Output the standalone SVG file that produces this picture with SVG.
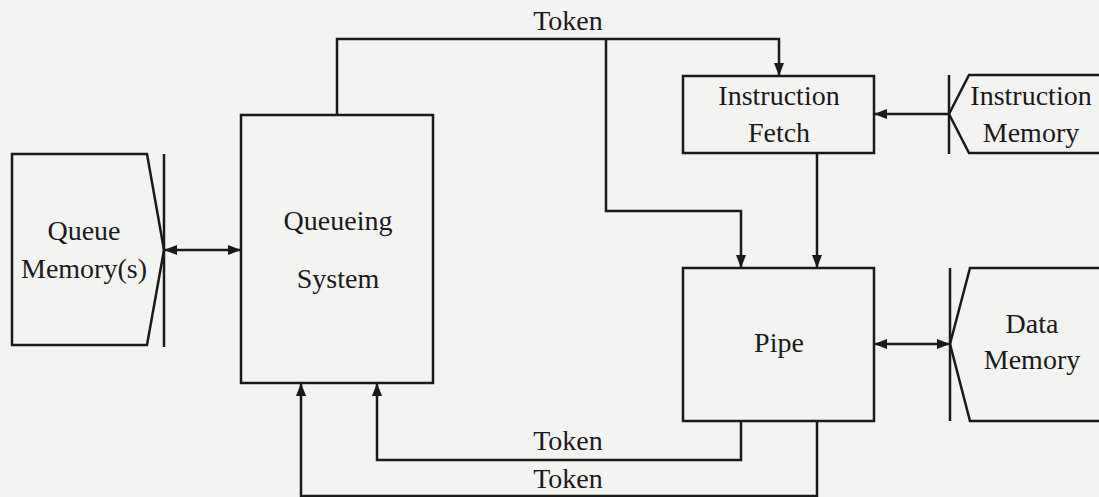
<svg xmlns="http://www.w3.org/2000/svg" width="1099" height="497" viewBox="0 0 1099 497">
<defs>
<marker id="ah" markerUnits="userSpaceOnUse" markerWidth="13" markerHeight="10" refX="13" refY="5" orient="auto-start-reverse">
<path d="M0,0 L13,5 L0,10 z" fill="#1a1a1a"/>
</marker>
<style>
.box{fill:none;stroke:#1a1a1a;stroke-width:2.5}
.wire{fill:none;stroke:#1a1a1a;stroke-width:2.5}
.lbl{font-family:"Liberation Serif","Times New Roman",serif;font-size:28px;fill:#1a1a1a;text-anchor:middle}
</style>
</defs>
<rect x="0" y="0" width="1099" height="497" fill="#f3f3f1"/>
<g id="queue-memory">
<path class="box" d="M147,154 H12 V345 H147 L164,250 Z"/>
<line class="box" x1="164" y1="154" x2="164" y2="347"/>
<text class="lbl" x="84" y="240">Queue</text>
<text class="lbl" x="84" y="278">Memory(s)</text>
</g>
<g id="queueing-system">
<rect class="box" x="241" y="115" width="192" height="268"/>
<text class="lbl" x="338" y="230">Queueing</text>
<text class="lbl" x="338" y="288">System</text>
</g>
<g id="instruction-fetch">
<rect class="box" x="683" y="76" width="191" height="77"/>
<text class="lbl" x="779" y="105">Instruction</text>
<text class="lbl" x="779" y="142">Fetch</text>
</g>
<g id="instruction-memory">
<path class="box" d="M1110,75 H969 L949,114 L969,153 H1110"/>
<line class="box" x1="949" y1="75" x2="949" y2="154"/>
<text class="lbl" x="1031" y="105">Instruction</text>
<text class="lbl" x="1031" y="142">Memory</text>
</g>
<g id="pipe">
<rect class="box" x="683" y="268" width="191" height="153"/>
<text class="lbl" x="779" y="352">Pipe</text>
</g>
<g id="data-memory">
<path class="box" d="M1110,268 H970 L950,344 L970,421 H1110"/>
<line class="box" x1="950" y1="268" x2="950" y2="421"/>
<text class="lbl" x="1032" y="333">Data</text>
<text class="lbl" x="1032" y="369">Memory</text>
</g>
<g id="connectors">
<line class="wire" x1="164" y1="250" x2="241" y2="250" marker-start="url(#ah)" marker-end="url(#ah)"/>
<line class="wire" x1="949" y1="114" x2="874" y2="114" marker-end="url(#ah)"/>
<line class="wire" x1="874" y1="344" x2="950" y2="344" marker-start="url(#ah)" marker-end="url(#ah)"/>
<line class="wire" x1="817" y1="153" x2="817" y2="268" marker-end="url(#ah)"/>
<path class="wire" d="M337,115 V39 H779 V76" marker-end="url(#ah)"/>
<path class="wire" d="M606,39 V211 H741 V268" marker-end="url(#ah)"/>
<path class="wire" d="M741,421 V460 H377 V383" marker-end="url(#ah)"/>
<path class="wire" d="M817,421 V496 H301 V383" marker-end="url(#ah)"/>
<text class="lbl" x="568" y="30">Token</text>
<text class="lbl" x="568" y="450">Token</text>
<text class="lbl" x="568" y="488">Token</text>
</g>
</svg>
